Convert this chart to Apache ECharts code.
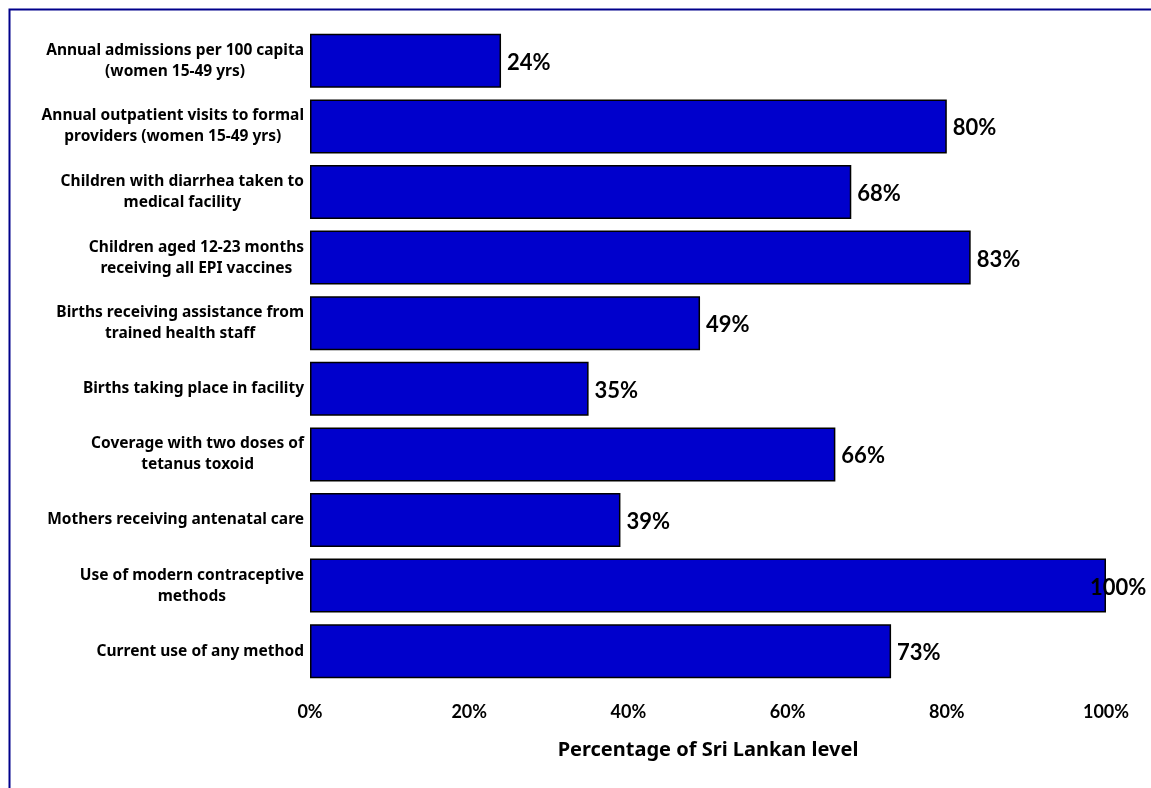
<!DOCTYPE html>
<html><head><meta charset="utf-8">
<script src="https://cdn.jsdelivr.net/npm/echarts@6/dist/echarts.min.js"></script>
<style>html,body{margin:0;padding:0;background:#fff}#c{width:1151px;height:788px}</style>
</head><body><div id="c"></div>
<script>
var categories = [
  "Annual admissions per 100 capita\n(women 15-49 yrs)",
  "Annual outpatient visits to formal\nproviders (women 15-49 yrs)",
  "Children with diarrhea taken to\nmedical facility",
  "Children aged 12-23 months\nreceiving all EPI vaccines",
  "Births receiving assistance from\ntrained health staff",
  "Births taking place in facility",
  "Coverage with two doses of\ntetanus toxoid",
  "Mothers receiving antenatal care",
  "Use of modern contraceptive\nmethods",
  "Current use of any method"
];
var values = [24, 80, 68, 83, 49, 35, 66, 39, 100, 73];
var xTicks = [0, 20, 40, 60, 80, 100];
var axisTitle = "Percentage of Sri Lankan level";

var CAT_FONT = "Noto Sans";
var NUM_FONT = "Lato";
var chart = echarts.init(document.getElementById('c'), null, {renderer: 'canvas'});
var seriesData = values.map(function (v) {
  return v >= 100 ? {value: v, label: {offset: [-22, 2]}} : v;
});
chart.setOption({
  animation: false,
  backgroundColor: '#ffffff',
  grid: {left: 310, right: 45, top: 28, bottom: 104, containLabel: false},
  xAxis: {
    type: 'value', min: 0, max: 100, interval: 20,
    axisLine: {show: false}, axisTick: {show: false}, splitLine: {show: false},
    axisLabel: {
      margin: 19, color: '#000', fontFamily: NUM_FONT, fontWeight: 'bold', fontSize: 18,
      formatter: function (v) { return xTicks.indexOf(v) >= 0 ? v + '%' : ''; }
    },
    name: axisTitle, nameLocation: 'middle', nameGap: 56,
    nameTextStyle: {color: '#000', fontFamily: CAT_FONT, fontWeight: 'bold', fontSize: 20}
  },
  yAxis: {
    type: 'category', data: categories, inverse: true,
    axisLine: {show: false}, axisTick: {show: false}, splitLine: {show: false},
    axisLabel: {
      margin: 6, color: '#000', fontFamily: CAT_FONT, fontWeight: 'bold', fontSize: 15.5,
      lineHeight: 21, align: 'right',
      formatter: function (v) {
        return v.split('\n').map(function (s) { return '{c|' + s + '}'; }).join('\n');
      },
      rich: {c: {align: 'center', color: '#000', fontFamily: CAT_FONT, fontWeight: 'bold', fontSize: 15.5, lineHeight: 21}}
    }
  },
  series: [{
    type: 'bar', data: seriesData, barWidth: 54,
    itemStyle: {color: '#0000CC', borderColor: '#000', borderWidth: 1.5},
    label: {
      show: true, position: 'right', distance: 6, offset: [0, 2], color: '#000',
      fontFamily: NUM_FONT, fontWeight: 'bold', fontSize: 22,
      formatter: function (p) { return p.value + '%'; }
    }
  }],
  graphic: [{
    type: 'rect', left: 7, top: 7, shape: {width: 1200, height: 900},
    style: {fill: 'none', stroke: '#00008B', lineWidth: 2}, silent: true
  }]
});
</script></body></html>
